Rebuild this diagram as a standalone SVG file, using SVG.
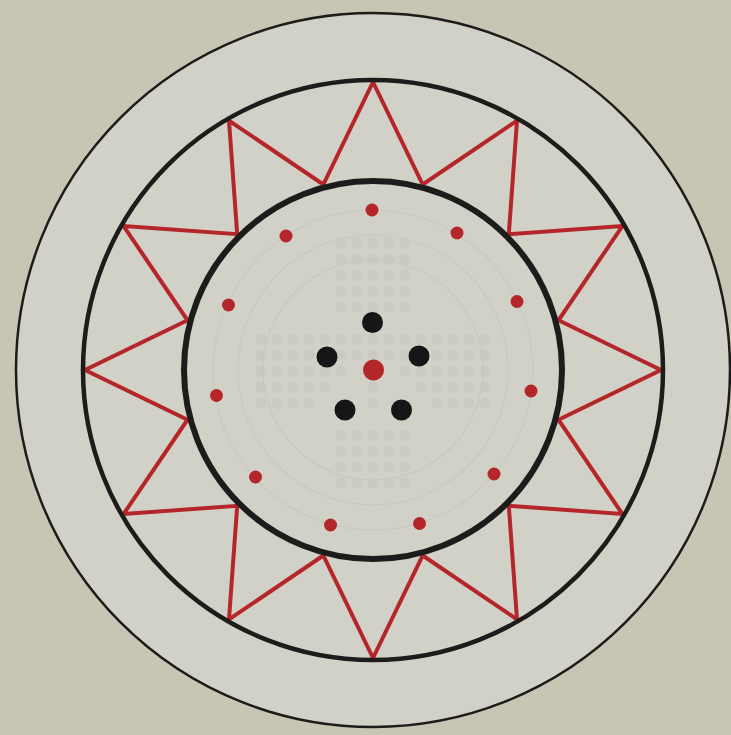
<svg xmlns="http://www.w3.org/2000/svg" width="731" height="735" viewBox="0 0 731 735">
<style>
.ring{fill:none;stroke:#1c1c1a}
.star{fill:none;stroke:#b5262a;stroke-width:4;stroke-linejoin:miter}
.rd{fill:#b5262a}
.bd{fill:#161616}
.faint{fill:none;stroke:#c8c8c0;stroke-width:1.2}
.gd{fill:#c2c2bb}
</style>
<rect width="731" height="735" fill="#c9c5b4"/>
<g id="background-pattern">
<circle cx="373" cy="370" r="357" fill="#d2d1c7"/>
<circle class="faint" cx="373" cy="370" r="110"/>
<circle class="faint" cx="373" cy="370" r="135"/>
<circle class="faint" cx="373" cy="370" r="160"/>
<g opacity="0.4">
<g id="cross-v">
<circle class="gd" cx="341" cy="243" r="5.5"/><circle class="gd" cx="357" cy="243" r="5.5"/><circle class="gd" cx="373" cy="243" r="5.5"/><circle class="gd" cx="389" cy="243" r="5.5"/><circle class="gd" cx="405" cy="243" r="5.5"/>
<circle class="gd" cx="341" cy="259" r="5.5"/><circle class="gd" cx="357" cy="259" r="5.5"/><circle class="gd" cx="373" cy="259" r="5.5"/><circle class="gd" cx="389" cy="259" r="5.5"/><circle class="gd" cx="405" cy="259" r="5.5"/>
<circle class="gd" cx="341" cy="275" r="5.5"/><circle class="gd" cx="357" cy="275" r="5.5"/><circle class="gd" cx="373" cy="275" r="5.5"/><circle class="gd" cx="389" cy="275" r="5.5"/><circle class="gd" cx="405" cy="275" r="5.5"/>
<circle class="gd" cx="341" cy="291" r="5.5"/><circle class="gd" cx="357" cy="291" r="5.5"/><circle class="gd" cx="373" cy="291" r="5.5"/><circle class="gd" cx="389" cy="291" r="5.5"/><circle class="gd" cx="405" cy="291" r="5.5"/>
<circle class="gd" cx="341" cy="307" r="5.5"/><circle class="gd" cx="357" cy="307" r="5.5"/><circle class="gd" cx="373" cy="307" r="5.5"/><circle class="gd" cx="389" cy="307" r="5.5"/><circle class="gd" cx="405" cy="307" r="5.5"/>
<circle class="gd" cx="341" cy="435" r="5.5"/><circle class="gd" cx="357" cy="435" r="5.5"/><circle class="gd" cx="373" cy="435" r="5.5"/><circle class="gd" cx="389" cy="435" r="5.5"/><circle class="gd" cx="405" cy="435" r="5.5"/>
<circle class="gd" cx="341" cy="451" r="5.5"/><circle class="gd" cx="357" cy="451" r="5.5"/><circle class="gd" cx="373" cy="451" r="5.5"/><circle class="gd" cx="389" cy="451" r="5.5"/><circle class="gd" cx="405" cy="451" r="5.5"/>
<circle class="gd" cx="341" cy="467" r="5.5"/><circle class="gd" cx="357" cy="467" r="5.5"/><circle class="gd" cx="373" cy="467" r="5.5"/><circle class="gd" cx="389" cy="467" r="5.5"/><circle class="gd" cx="405" cy="467" r="5.5"/>
<circle class="gd" cx="341" cy="483" r="5.5"/><circle class="gd" cx="357" cy="483" r="5.5"/><circle class="gd" cx="373" cy="483" r="5.5"/><circle class="gd" cx="389" cy="483" r="5.5"/><circle class="gd" cx="405" cy="483" r="5.5"/>
</g>
<g id="cross-h">
<circle class="gd" cx="261" cy="339" r="5.5"/><circle class="gd" cx="277" cy="339" r="5.5"/><circle class="gd" cx="293" cy="339" r="5.5"/><circle class="gd" cx="309" cy="339" r="5.5"/><circle class="gd" cx="325" cy="339" r="5.5"/><circle class="gd" cx="341" cy="339" r="5.5"/><circle class="gd" cx="357" cy="339" r="5.5"/><circle class="gd" cx="373" cy="339" r="5.5"/><circle class="gd" cx="389" cy="339" r="5.5"/><circle class="gd" cx="405" cy="339" r="5.5"/><circle class="gd" cx="421" cy="339" r="5.5"/><circle class="gd" cx="437" cy="339" r="5.5"/><circle class="gd" cx="453" cy="339" r="5.5"/><circle class="gd" cx="469" cy="339" r="5.5"/><circle class="gd" cx="485" cy="339" r="5.5"/>
<circle class="gd" cx="261" cy="355" r="5.5"/><circle class="gd" cx="277" cy="355" r="5.5"/><circle class="gd" cx="293" cy="355" r="5.5"/><circle class="gd" cx="309" cy="355" r="5.5"/><circle class="gd" cx="341" cy="355" r="5.5"/><circle class="gd" cx="357" cy="355" r="5.5"/><circle class="gd" cx="373" cy="355" r="5.5"/><circle class="gd" cx="389" cy="355" r="5.5"/><circle class="gd" cx="405" cy="355" r="5.5"/><circle class="gd" cx="437" cy="355" r="5.5"/><circle class="gd" cx="453" cy="355" r="5.5"/><circle class="gd" cx="469" cy="355" r="5.5"/><circle class="gd" cx="485" cy="355" r="5.5"/>
<circle class="gd" cx="261" cy="371" r="5.5"/><circle class="gd" cx="277" cy="371" r="5.5"/><circle class="gd" cx="293" cy="371" r="5.5"/><circle class="gd" cx="309" cy="371" r="5.5"/><circle class="gd" cx="325" cy="371" r="5.5"/><circle class="gd" cx="341" cy="371" r="5.5"/><circle class="gd" cx="405" cy="371" r="5.5"/><circle class="gd" cx="421" cy="371" r="5.5"/><circle class="gd" cx="437" cy="371" r="5.5"/><circle class="gd" cx="453" cy="371" r="5.5"/><circle class="gd" cx="469" cy="371" r="5.5"/><circle class="gd" cx="485" cy="371" r="5.5"/>
<circle class="gd" cx="261" cy="387" r="5.5"/><circle class="gd" cx="277" cy="387" r="5.5"/><circle class="gd" cx="293" cy="387" r="5.5"/><circle class="gd" cx="309" cy="387" r="5.5"/><circle class="gd" cx="325" cy="387" r="5.5"/><circle class="gd" cx="373" cy="387" r="5.5"/><circle class="gd" cx="421" cy="387" r="5.5"/><circle class="gd" cx="437" cy="387" r="5.5"/><circle class="gd" cx="453" cy="387" r="5.5"/><circle class="gd" cx="469" cy="387" r="5.5"/><circle class="gd" cx="485" cy="387" r="5.5"/>
<circle class="gd" cx="261" cy="403" r="5.5"/><circle class="gd" cx="277" cy="403" r="5.5"/><circle class="gd" cx="293" cy="403" r="5.5"/><circle class="gd" cx="309" cy="403" r="5.5"/><circle class="gd" cx="373" cy="403" r="5.5"/><circle class="gd" cx="437" cy="403" r="5.5"/><circle class="gd" cx="453" cy="403" r="5.5"/><circle class="gd" cx="469" cy="403" r="5.5"/><circle class="gd" cx="485" cy="403" r="5.5"/>
</g>
</g>
</g>
<g id="connectors">
<polygon id="star" class="star" points="373,82 422.7,184.5 517,120.6 508.8,234.2 622.4,226 558.5,320.3 661,370 558.5,419.7 622.4,514 508.8,505.8 517,619.4 422.7,555.5 373,658 323.3,555.5 229,619.4 237.2,505.8 123.6,514 187.5,419.7 85,370 187.5,320.3 123.6,226 237.2,234.2 229,120.6 323.3,184.5"/>
</g>
<g id="outer-ring"><circle class="ring" cx="373" cy="370" r="357" stroke-width="2.5"/></g>
<g id="middle-ring"><circle class="ring" cx="373" cy="370" r="290" stroke-width="4.5"/></g>
<g id="inner-ring"><circle class="ring" cx="373" cy="370" r="189" stroke-width="6"/></g>
<g id="red-dots">
<circle class="rd" cx="372" cy="210" r="6.5"/>
<circle class="rd" cx="457" cy="233" r="6.5"/>
<circle class="rd" cx="517" cy="301.5" r="6.5"/>
<circle class="rd" cx="531" cy="391" r="6.5"/>
<circle class="rd" cx="494" cy="474" r="6.5"/>
<circle class="rd" cx="419.5" cy="523.5" r="6.5"/>
<circle class="rd" cx="330.5" cy="525" r="6.5"/>
<circle class="rd" cx="255.5" cy="477" r="6.5"/>
<circle class="rd" cx="216.5" cy="395.5" r="6.5"/>
<circle class="rd" cx="228.5" cy="305" r="6.5"/>
<circle class="rd" cx="286" cy="236" r="6.5"/>
</g>
<g id="black-dots">
<circle class="bd" cx="372.5" cy="322.5" r="10.5"/>
<circle class="bd" cx="327" cy="357" r="10.5"/>
<circle class="bd" cx="419" cy="356" r="10.5"/>
<circle class="bd" cx="345" cy="410" r="10.5"/>
<circle class="bd" cx="401.5" cy="410" r="10.5"/>
</g>
<g id="center-dot"><circle class="rd" cx="373.5" cy="370" r="10.5"/></g>
</svg>
